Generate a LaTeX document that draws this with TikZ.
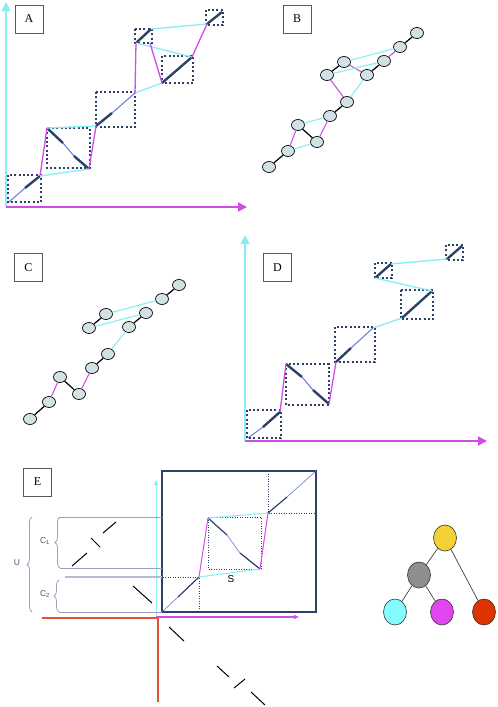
\documentclass[tikz,border=0pt]{standalone}
\usepackage{fontspec}
\setmainfont{Liberation Serif}
\setsansfont{Liberation Sans}
\usepackage{tikz}
\usetikzlibrary{shapes.geometric,decorations.pathreplacing,arrows.meta}

\definecolor{axcyan}{HTML}{86EEF4}
\definecolor{axmag}{HTML}{D24CE6}
\definecolor{navy}{HTML}{2C4166}
\definecolor{thinblue}{HTML}{6678D6}
\definecolor{beadfill}{HTML}{D2E2E4}
\definecolor{bracegray}{HTML}{A0A0BC}
\definecolor{labelgray}{HTML}{4E5476}
\definecolor{rust}{HTML}{E0552E}
\definecolor{treeyellow}{HTML}{F2D233}
\definecolor{treegray}{HTML}{8E8E8E}
\definecolor{treecyan}{HTML}{82FCFF}
\definecolor{treemag}{HTML}{E046F0}
\definecolor{treered}{HTML}{DC3300}

\tikzset{
  panel/.style={draw=gray!70!black, line width=0.8pt, fill=white, minimum width=28pt,
    minimum height=28pt, inner sep=0pt, font=\fontsize{12}{14}\selectfont},
  hitbox/.style={draw=navy, line width=2.2pt, dash pattern=on 2pt off 2.3pt},
  thinbox/.style={draw=navy, line width=0.9pt, dash pattern=on 1pt off 1.5pt},
  seg/.style={navy, line width=2.4pt},
  gap/.style={thinblue, line width=1pt},
  vlink/.style={axmag, line width=1.3pt},
  hlink/.style={axcyan, line width=1.3pt},
  bead/.style={ellipse, draw, line width=0.7pt, fill=beadfill, minimum width=13pt,
    minimum height=11pt, inner sep=0pt},
  pair/.style={black, line width=1.2pt},
  leaf/.style={ellipse, draw=black!80, line width=0.6pt, minimum width=23pt,
    minimum height=26pt, inner sep=0pt},
  bigtip/.style={-{Triangle[length=9pt,width=9pt]}},
  smalltip/.style={-{Triangle[length=5pt,width=4pt]}},
  cbrace/.style={bracegray, line width=0.8pt, decorate, decoration={brace, amplitude=5pt}},
  lbl/.style={font=\sffamily\fontsize{8.5}{10}\selectfont, text=labelgray}
}

\begin{document}
\begin{tikzpicture}[x=1pt,y=-1pt]
\useasboundingbox (0,0) rectangle (498,707);

% ---- panel A
\draw[axcyan, line width=1.8pt, bigtip] (6,207) -- (6,2);
\draw[axmag, line width=1.8pt, bigtip] (6,207) -- (247,207);
\node[panel] (labA) at (29,19) {A};
\draw[hitbox] (8,175) rectangle (41,202);
\draw[hitbox] (47,128) rectangle (90,168);
\draw[hitbox] (96,92) rectangle (135,127);
\draw[hitbox] (135,29) rectangle (152,43);
\draw[hitbox] (162,56) rectangle (193,83);
\draw[hitbox] (206,10) rectangle (223,25);
\coordinate (a1s) at (9,202);   \coordinate (a1m) at (25,188);  \coordinate (a1e) at (40,176);
\coordinate (a2s) at (47,128);  \coordinate (a2m) at (63,143);  \coordinate (a2n) at (74,156);
\coordinate (a2e) at (89,169);
\coordinate (a3s) at (96,126);  \coordinate (a3m) at (112,113); \coordinate (a3e) at (135,93);
\coordinate (a4s) at (136,43);  \coordinate (a4e) at (151,29);  \coordinate (a4c) at (150,43);
\coordinate (a5s) at (162,83);  \coordinate (a5e) at (192,57);
\coordinate (a6s) at (207,24);  \coordinate (a6e) at (222,12);
\draw[gap] (a1s) -- (a1m);  \draw[seg] (a1m) -- (a1e);
\draw[seg] (a2s) -- (a2m);  \draw[gap] (a2m) -- (a2n);  \draw[seg] (a2n) -- (a2e);
\draw[seg] (a3s) -- (a3m);  \draw[gap] (a3m) -- (a3e);
\draw[seg] (a4s) -- (a4e);
\draw[seg] (a5s) -- (a5e);
\draw[seg] (a6s) -- (a6e);
\draw[vlink] (a1e) -- (a2s);
\draw[hlink] (a1e) -- (a2e);
\draw[hlink] (a2s) -- (a3s);
\draw[vlink] (a2e) -- (a3s);
\draw[vlink] (a3e) -- (a4s);
\draw[hlink] (a3e) -- (a5s);
\draw[hlink] (a4s) -- (a5e);
\draw[vlink] (a4c) -- (a5s);
\draw[hlink] (a4e) -- (a6s);
\draw[vlink] (a5e) -- (a6s);

% ---- panel B
\node[panel] (labB) at (297,19) {B};
\node[bead] (b1) at (269,167) {};
\node[bead] (b2) at (288,151) {};
\node[bead] (b3) at (298,125) {};
\node[bead] (b4) at (317,142) {};
\node[bead] (b5) at (330,116) {};
\node[bead] (b6) at (347,102) {};
\node[bead] (b7) at (327,75) {};
\node[bead] (b8) at (344,62) {};
\node[bead] (b9) at (367,75) {};
\node[bead] (b10) at (384,61) {};
\node[bead] (b11) at (400,47) {};
\node[bead] (b12) at (417,33) {};
\foreach \u/\v in {b1/b2,b3/b4,b5/b6,b7/b8,b9/b10,b11/b12}
  \draw[pair] (\u) -- (\v);
\foreach \u/\v in {b2/b3,b4/b5,b7/b6,b8/b9,b10/b11}
  \draw[vlink, line width=1.1pt] (\u) -- (\v);
\foreach \u/\v in {b2/b4,b3/b5,b6/b9,b7/b10,b8/b11}
  \draw[hlink, line width=1.1pt] (\u) -- (\v);

% ---- panel C
\node[panel] (labC) at (28.5,267.5) {C};
\node[bead] (c1) at (30,419) {};
\node[bead] (c2) at (49,402) {};
\node[bead] (c3) at (60,377) {};
\node[bead] (c4) at (79,394) {};
\node[bead] (c5) at (92,368) {};
\node[bead] (c6) at (108,354) {};
\node[bead] (c7) at (89,328) {};
\node[bead] (c8) at (106,314) {};
\node[bead] (c9) at (129,327) {};
\node[bead] (c10) at (146,313) {};
\node[bead] (c11) at (162,299) {};
\node[bead] (c12) at (179,285) {};
\foreach \u/\v in {c1/c2,c3/c4,c5/c6,c7/c8,c9/c10,c11/c12}
  \draw[pair] (\u) -- (\v);
\foreach \u/\v in {c2/c3,c4/c5}
  \draw[vlink, line width=1.1pt] (\u) -- (\v);
\foreach \u/\v in {c6/c9,c7/c10,c8/c11}
  \draw[hlink, line width=1.1pt] (\u) -- (\v);

% ---- panel D
\draw[axcyan, line width=1.8pt, bigtip] (245,441) -- (245,235);
\draw[axmag, line width=1.8pt, bigtip] (245,441) -- (487,441);
\node[panel] (labD) at (277.5,267.5) {D};
\draw[hitbox] (247,410) rectangle (281,438);
\draw[hitbox] (286,364) rectangle (329,405);
\draw[hitbox] (335,327) rectangle (375,362);
\draw[hitbox] (401,290) rectangle (433,319);
\draw[hitbox] (375,263) rectangle (392,278);
\draw[hitbox] (446,245) rectangle (463,260);
\coordinate (d1s) at (248,438); \coordinate (d1m) at (263,427); \coordinate (d1e) at (280,412);
\coordinate (d2s) at (286,364); \coordinate (d2m) at (302,377); \coordinate (d2n) at (313,390);
\coordinate (d2e) at (329,404);
\coordinate (d3s) at (336,362); \coordinate (d3m) at (351,348); \coordinate (d3e) at (373,328);
\coordinate (d4s) at (402,318); \coordinate (d4e) at (432,291);
\coordinate (d5s) at (375,278); \coordinate (d5e) at (391,264);
\coordinate (d6s) at (447,259); \coordinate (d6e) at (462,246);
\draw[gap] (d1s) -- (d1m);  \draw[seg] (d1m) -- (d1e);
\draw[seg] (d2s) -- (d2m);  \draw[gap] (d2m) -- (d2n);  \draw[seg] (d2n) -- (d2e);
\draw[seg] (d3s) -- (d3m);  \draw[gap] (d3m) -- (d3e);
\draw[seg] (d4s) -- (d4e);
\draw[seg] (d5s) -- (d5e);
\draw[seg] (d6s) -- (d6e);
\draw[vlink] (d1e) -- (d2s);
\draw[vlink] (d2e) -- (d3s);
\draw[hlink] (d3e) -- (d4s);
\draw[hlink] (d4e) -- (d5s);
\draw[hlink] (d5e) -- (d6s);

% ---- panel E
\node[panel] (labE) at (37.5,482) {E};
\coordinate (corner) at (158,618);
\draw[rust, line width=1.2pt] (42,618) -- (corner);
\draw[rust, line width=1.4pt] (corner) -- (158,702);
\draw[axcyan, line width=1pt, smalltip] (156,617) -- (156,480);
\draw[axmag, line width=1.3pt, smalltip] (156,617) -- (299,617);
\draw[navy, line width=1.3pt] (162,471) rectangle (316,612);
\draw[thinbox] (162,577) rectangle (199,612);
\draw[thinbox] (208,517) rectangle (261,569);
\draw[thinbox] (268,471) rectangle (316,513);
\coordinate (e1s) at (162,612); \coordinate (e1m) at (178,597); \coordinate (e1e) at (199,577);
\coordinate (e2s) at (208,518); \coordinate (e2m) at (227,535); \coordinate (e2n) at (240,553);
\coordinate (e2e) at (260,569);
\coordinate (e3s) at (268,513); \coordinate (e3m) at (287,497); \coordinate (e3e) at (316,471);
\draw[thinblue, line width=0.6pt] (e1s) -- (e1m);
\draw[navy, line width=1.2pt] (e1m) -- (e1e);
\draw[navy, line width=1.2pt] (e2s) -- (e2m);
\draw[thinblue, line width=0.6pt] (e2m) -- (e2n);
\draw[navy, line width=1.2pt] (e2n) -- (e2e);
\draw[navy, line width=1.2pt] (e3s) -- (e3m);
\draw[thinblue, line width=0.6pt] (e3m) -- (e3e);
\draw[axmag, line width=1pt] (e1e) -- (e2s);
\draw[axcyan, line width=1pt] (e1e) -- (e2e);
\draw[axcyan, line width=1pt] (e2s) -- (e3s);
\draw[axmag, line width=1pt] (e2e) -- (e3s);
\node[font=\sffamily\fontsize{10}{12}\selectfont] (S) at (231,579) {S};

% braces and guide lines
\draw[cbrace] (32,612) -- (32,517);
\draw[cbrace] (60,568) -- (60,517);
\draw[cbrace] (59,612) -- (59,580);
\draw[bracegray, line width=0.8pt] (60,517) -- (162,517);
\draw[bracegray, line width=0.8pt] (60,568) -- (162,568);
\draw[bracegray!70, line width=1.4pt] (65,577) -- (162,577);
\draw[bracegray, line width=0.8pt] (59,612) -- (162,612);
\node[lbl] (U) at (17,563) {U};
\node[lbl] (C1) at (45,541) {C\textsubscript{1}};
\node[lbl] (C2) at (45,594) {C\textsubscript{2}};

% off-diagonal pieces
\draw[black, line width=1pt] (103,533) -- (116,522);
\draw[black, line width=1pt] (91,538) -- (100,547);
\draw[black, line width=1pt] (72,566) -- (87,553);
\draw[black, line width=1pt] (133,586) -- (152,603);
\draw[black, line width=1pt] (169,627) -- (184,641);
\draw[black, line width=1pt] (217,666) -- (229,677);
\draw[black, line width=1pt] (234,688) -- (245,679);
\draw[black, line width=1pt] (251,692) -- (265,705);

% ---- tree
\node[leaf, fill=treeyellow] (top) at (445,538) {};
\node[leaf, fill=treegray] (mid) at (419,575) {};
\node[leaf, fill=treecyan] (lc) at (395,612) {};
\node[leaf, fill=treemag] (lm) at (442,612) {};
\node[leaf, fill=treered] (lr) at (484,612) {};
\draw[black!75, line width=0.7pt] (top) -- (mid);
\draw[black!75, line width=0.7pt] (top) -- (lr);
\draw[black!75, line width=0.7pt] (mid) -- (lc);
\draw[black!75, line width=0.7pt] (mid) -- (lm);
\end{tikzpicture}
\end{document}
